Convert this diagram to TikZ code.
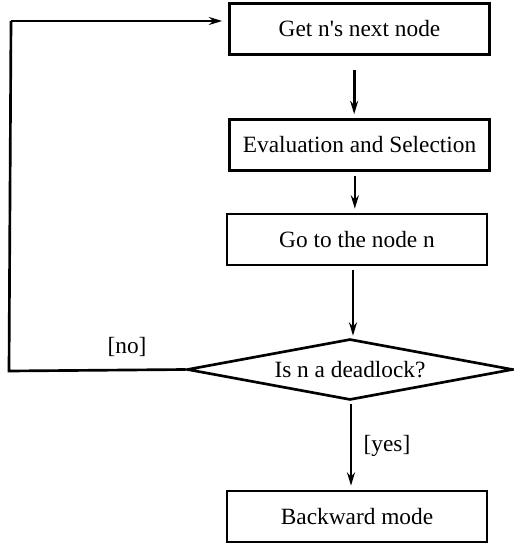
\documentclass[tikz,border=0pt]{standalone}
\usepackage{fontspec}
\setmainfont{Liberation Serif}
\usetikzlibrary{shapes.geometric,arrows.meta}
\tikzset{
  box/.style={draw, line width=2pt, rectangle, minimum width=195pt, minimum height=38.25pt, inner sep=0pt, font=\fontsize{17.5}{20}\selectfont},
  decision/.style={draw, line width=2pt, diamond, aspect=5.3, minimum width=244.5pt, minimum height=45.75pt, inner sep=0pt, font=\fontsize{17.5}{20}\selectfont},
  lbl/.style={font=\fontsize{17.5}{20}\selectfont, inner sep=0pt},
  arr/.style={line width=2pt, -{Stealth[length=10pt,width=6pt]}},
  conn/.style={line width=2pt}
}
\begin{document}
\begin{tikzpicture}[x=0.75pt,y=-0.75pt]
\useasboundingbox (0,0) rectangle (514,543);
\node[box] (b1) at (359.5,29) {Get n\textquotesingle s next node};
\node[box] (b2) at (359.5,145) {Evaluation and Selection};
\node[box] (b3) at (357,239.5) {Go to the node n};
\node[decision] (d) at (350,369.5) {\raisebox{-3pt}{Is n a deadlock?}};
\node[box] (b5) at (357,516.5) {Backward mode};
\coordinate (lb) at (9,371);
\coordinate (lt) at (11,21);
\draw[arr, shorten <=10.5pt, shorten >=3pt] ([xshift=-4pt]b1.south) -- ([xshift=-4pt]b1.south |- b2.north);
\draw[arr, shorten <=3pt, shorten >=3pt] ([xshift=-3.5pt]b2.south) -- ([xshift=-3.5pt]b2.south |- b3.north);
\draw[arr, shorten <=3pt, shorten >=1.5pt] ([xshift=-3pt]b3.south) -- ([xshift=-3pt]b3.south |- d.north);
\draw[arr, shorten <=2pt, shorten >=3pt] ([xshift=0.75pt]d.south) -- ([xshift=0.75pt]d.south |- b5.north);
\draw[conn] (d.west) -- (lb) -- (lt);
\draw[arr, shorten >=4.5pt] (lt) -- (lt -| b1.west);
\node[lbl] (no) at (127,347) {[no]};
\node[lbl] (yes) at (387,446) {[yes]};
\end{tikzpicture}
\end{document}
